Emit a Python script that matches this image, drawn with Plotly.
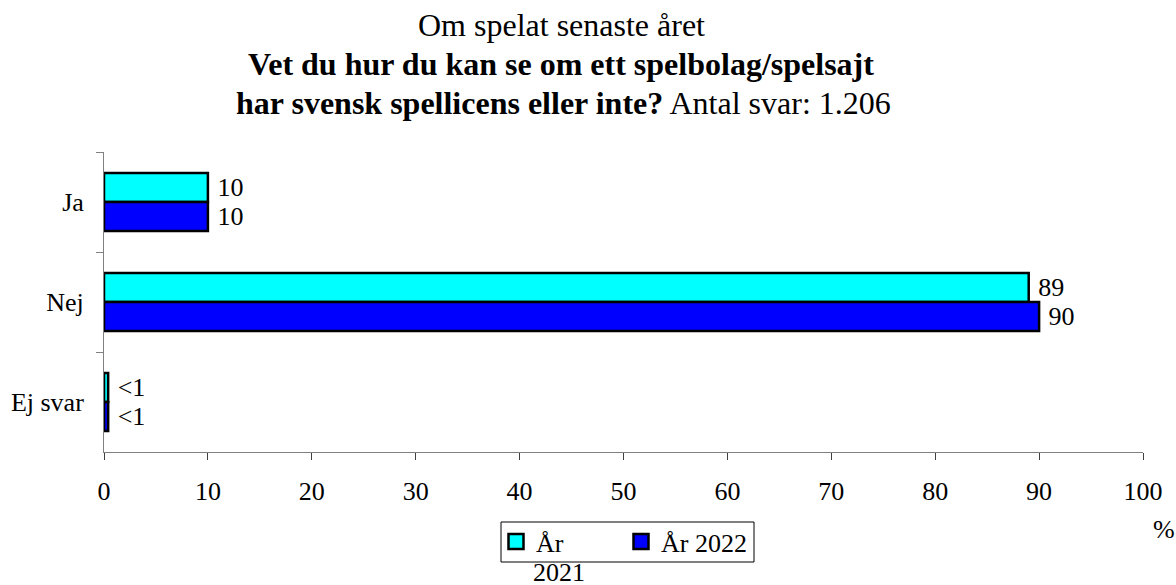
import plotly.graph_objects as go

categories = ["Ja", "Nej", "Ej svar"]
series_names = ["År 2021", "År 2022"]
legend_labels = ["År", "År 2022"]
values_2021 = [10, 89, 0.4]
values_2022 = [10, 90, 0.4]
labels_2021 = ["10", "89", "<1"]
labels_2022 = ["10", "90", "<1"]
colors = ["#00FFFF", "#0000FF"]
x_ticks = [0, 10, 20, 30, 40, 50, 60, 70, 80, 90, 100]

FONT = "Liberation Serif"
FS = 26

fig = go.Figure()
for vals, labs, col, name in zip([values_2021, values_2022], [labels_2021, labels_2022], colors, series_names):
    fig.add_trace(go.Bar(
        y=categories, x=vals, orientation="h", name=name, showlegend=False,
        marker=dict(color=col, line=dict(color="black", width=2.5)),
        text=[" " + t for t in labs], textposition="outside", cliponaxis=False,
        textfont=dict(family=FONT, size=FS, color="black"),
    ))
# legend entries with larger square swatches
for col, lab in zip(colors, legend_labels):
    fig.add_trace(go.Scatter(
        x=[None], y=[None], mode="markers", name=lab, showlegend=True,
        marker=dict(symbol="square", size=15, color=col, line=dict(color="black", width=2.5)),
        hoverinfo="skip",
    ))

L, R, T, B = 104, 33, 152, 133
W, H = 1176, 585
pw = W - L - R
ph = H - T - B

def px_x(p):
    return (p - L) / pw

def px_y(p):
    return (H - B - p) / ph

fig.update_layout(
    width=W, height=H,
    margin=dict(l=L, r=R, t=T, b=B, autoexpand=False),
    paper_bgcolor="white", plot_bgcolor="white",
    font=dict(family=FONT, size=FS, color="black"),
    barmode="group", bargap=0.42, bargroupgap=0,
    showlegend=True,
    legend=dict(
        orientation="h", x=px_x(496), y=px_y(541.5), xanchor="left", yanchor="middle",
        borderwidth=0, bgcolor="rgba(0,0,0,0)",
        font=dict(family=FONT, size=FS, color="black"),
        entrywidth=80, entrywidthmode="pixels",
        traceorder="normal", itemsizing="trace",
    ),
    xaxis=dict(
        range=[0, 100], tickvals=x_ticks, ticktext=[str(v) for v in x_ticks],
        showgrid=False, zeroline=False, showline=True, linecolor="#808080", linewidth=1,
        ticks="outside", ticklen=7, tickcolor="#404040", tickwidth=1,
        ticklabelstandoff=9, tickfont=dict(family=FONT, size=FS),
    ),
    yaxis=dict(
        autorange="reversed", showgrid=False, zeroline=False,
        showline=True, linecolor="#808080", linewidth=1,
        ticks="outside", ticklen=7, tickcolor="#808080", tickson="boundaries",
        ticklabelstandoff=14, tickfont=dict(family=FONT, size=FS),
    ),
    shapes=[dict(type="rect", xref="paper", yref="paper",
                 x0=px_x(501), x1=px_x(754), y0=px_y(522), y1=px_y(562),
                 line=dict(color="black", width=1), fillcolor="rgba(0,0,0,0)", layer="below")],
)

TFS = 32
annotations = [
    dict(text="Om spelat senaste året", x=px_x(561), y=px_y(25), xanchor="center", yanchor="middle",
         font=dict(family=FONT, size=TFS)),
    dict(text="<b>Vet du hur du kan se om ett spelbolag/spelsajt</b>", x=px_x(561), y=px_y(64),
         xanchor="center", yanchor="middle", font=dict(family=FONT, size=TFS)),
    dict(text="<b>har svensk spellicens eller inte?</b> Antal svar: 1.206", x=px_x(563), y=px_y(103),
         xanchor="center", yanchor="middle", font=dict(family=FONT, size=TFS)),
    dict(text="%", x=px_x(1164), y=px_y(529), xanchor="center", yanchor="middle",
         font=dict(family=FONT, size=FS)),
    dict(text="2021", x=px_x(559), y=px_y(572), xanchor="center", yanchor="middle",
         font=dict(family=FONT, size=FS)),
]
for a in annotations:
    a.update(xref="paper", yref="paper", showarrow=False)
fig.update_layout(annotations=annotations)

fig.write_html(
    "out.html",
    config={"displayModeBar": False},
    post_script="document.body.style.margin='0';document.body.style.overflow='hidden';",
)
